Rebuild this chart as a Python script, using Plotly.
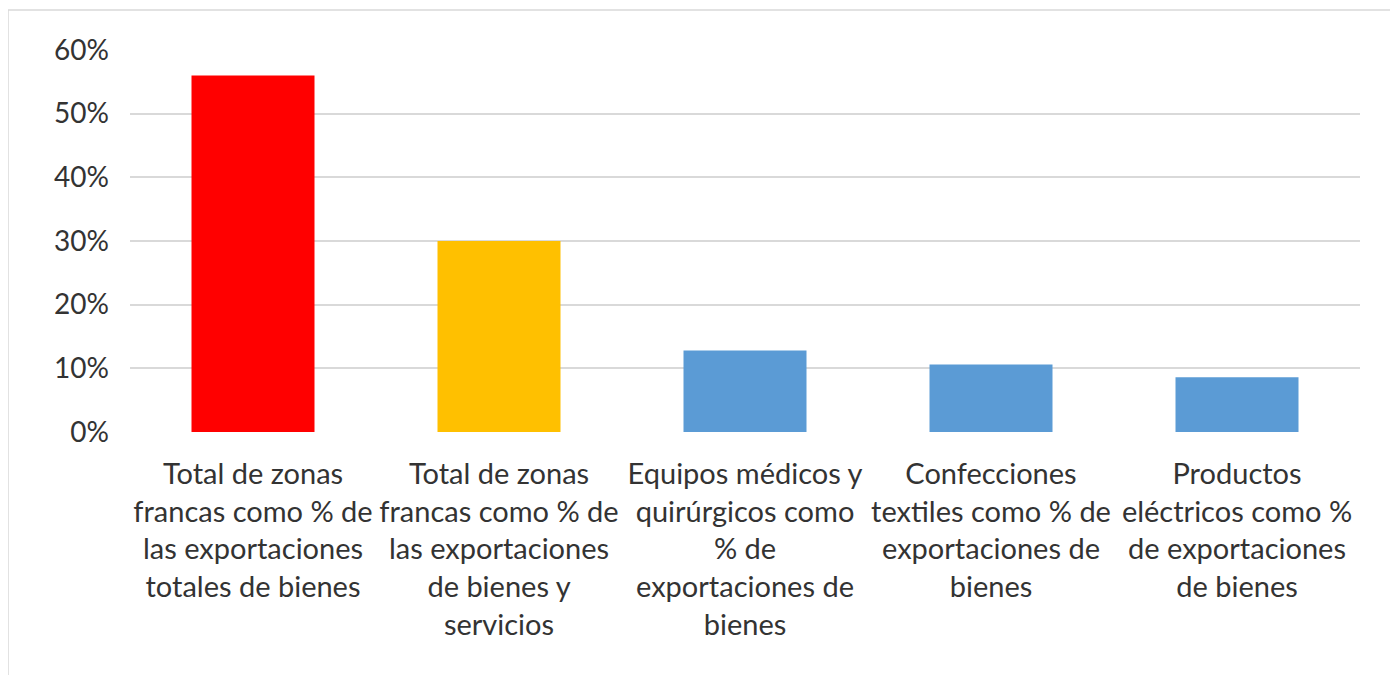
import plotly.graph_objects as go

categories = [
    "Total de zonas<br>francas como % de<br>las exportaciones<br>totales de bienes",
    "Total de zonas<br>francas como % de<br>las exportaciones<br>de bienes y<br>servicios",
    "Equipos médicos y<br>quirúrgicos como<br>% de<br>exportaciones de<br>bienes",
    "Confecciones<br>textiles como % de<br>exportaciones de<br>bienes",
    "Productos<br>eléctricos como %<br>de exportaciones<br>de bienes",
]
values = [0.56, 0.30, 0.128, 0.106, 0.086]
colors = ["#FF0000", "#FFC000", "#5B9BD5", "#5B9BD5", "#5B9BD5"]
ytick_vals = [0, 0.1, 0.2, 0.3, 0.4, 0.5, 0.6]
ytick_text = ["0%", "10%", "20%", "30%", "40%", "50%", "60%"]

W, H = 1398, 675
OFF = 8  # page body offset
L, R, T, B = 130 - OFF, 46, 50 - OFF, 251

fig = go.Figure(go.Bar(
    x=list(range(len(categories))), y=values, marker_color=colors,
    marker_line_width=0, width=0.5,
))

def px2paper_x(px):
    return (px - OFF - L) / (W - L - R)

def px2paper_y(py):
    return (H - B - (py - OFF)) / (H - T - B)

fig.add_shape(type="rect", xref="paper", yref="paper",
              x0=px2paper_x(8), x1=px2paper_x(1392),
              y0=px2paper_y(700), y1=px2paper_y(10),
              line=dict(color="#D9D9D9", width=1.5), fillcolor="rgba(0,0,0,0)", layer="below")

fig.update_layout(
    width=W, height=H,
    margin=dict(l=L, r=R, t=T, b=B),
    paper_bgcolor="white", plot_bgcolor="white",
    showlegend=False,
    font=dict(family="Lato, sans-serif", color="#404040"),
    xaxis=dict(
        tickmode="array", tickvals=list(range(len(categories))), ticktext=categories,
        tickangle=0, range=[-0.5, 4.5], showgrid=False, zeroline=False,
        showline=False, ticks="", tickfont=dict(size=29, color="#333333"),
        ticklabelstandoff=22,
    ),
    yaxis=dict(
        range=[0, 0.6], tickmode="array", tickvals=ytick_vals, ticktext=ytick_text,
        showgrid=True, gridcolor="#D9D9D9", gridwidth=1.5, zeroline=False,
        showline=False, ticks="", tickfont=dict(size=28, color="#333333"),
        ticklabelstandoff=20,
    ),
    bargap=0.5,
)

fig.write_html("out.html")
